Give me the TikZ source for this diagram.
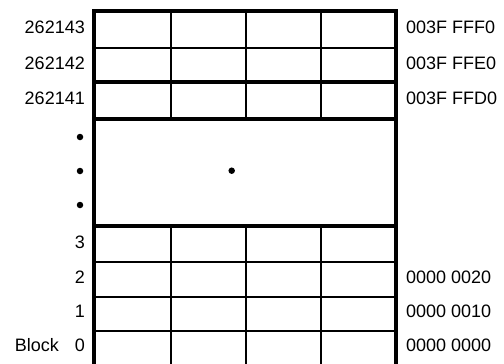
\documentclass[tikz,border=0pt]{standalone}
\usepackage{fontspec}
\setmainfont{Liberation Sans}
\begin{document}
\begin{tikzpicture}[x=1pt,y=-1pt,
  thick line/.style={line width=3.5pt},
  border line/.style={line width=4pt},
  thin line/.style={line width=2pt},
  lbl/.style={font=\fontsize{18}{20}\selectfont, inner sep=0pt},
  leftlbl/.style={lbl, anchor=east},
  rightlbl/.style={lbl, anchor=west},
  blob/.style={circle, fill=black, inner sep=0pt, minimum size=6.5pt}]
\useasboundingbox (0,0) rectangle (504,364);
% inner vertical lines
\foreach \x in {170.5,246,321}{
  \draw[thin line] (\x,11) -- (\x,119);
  \draw[thin line] (\x,226) -- (\x,364);
}
% thin row lines
\foreach \y in {47.5,262,296.5,331}{
  \draw[thin line] (94,\y) -- (395.5,\y);
}
% thick row lines
\foreach \y in {82,119,226}{
  \draw[thick line] (94,\y) -- (395.5,\y);
}
% outer border
\draw[border line] (94,364) -- (94,11) -- (395.5,11) -- (395.5,364);
% left labels
\node[leftlbl] (l262143) at (85,27) {262143};
\node[leftlbl] (l262142) at (85,63) {262142};
\node[leftlbl] (l262141) at (85,98) {262141};
\node[blob] (d1) at (80,137) {};
\node[blob] (d2) at (80,171) {};
\node[blob] (d3) at (80,205) {};
\node[leftlbl] (l3) at (85,242) {3};
\node[leftlbl] (l2) at (85,277) {2};
\node[leftlbl] (l1) at (85,311) {1};
\node[leftlbl] (l0) at (85,345) {Block\hspace{16pt}0};
\node[blob] (dc) at (231.7,170.7) {};
% right labels
\node[rightlbl] (r1) at (406,27) {003F FFF0};
\node[rightlbl] (r2) at (406,63) {003F FFE0};
\node[rightlbl] (r3) at (406,98) {003F FFD0};
\node[rightlbl] (r4) at (406,277) {0000 0020};
\node[rightlbl] (r5) at (406,311) {0000 0010};
\node[rightlbl] (r6) at (406,345) {0000 0000};
\end{tikzpicture}
\end{document}
